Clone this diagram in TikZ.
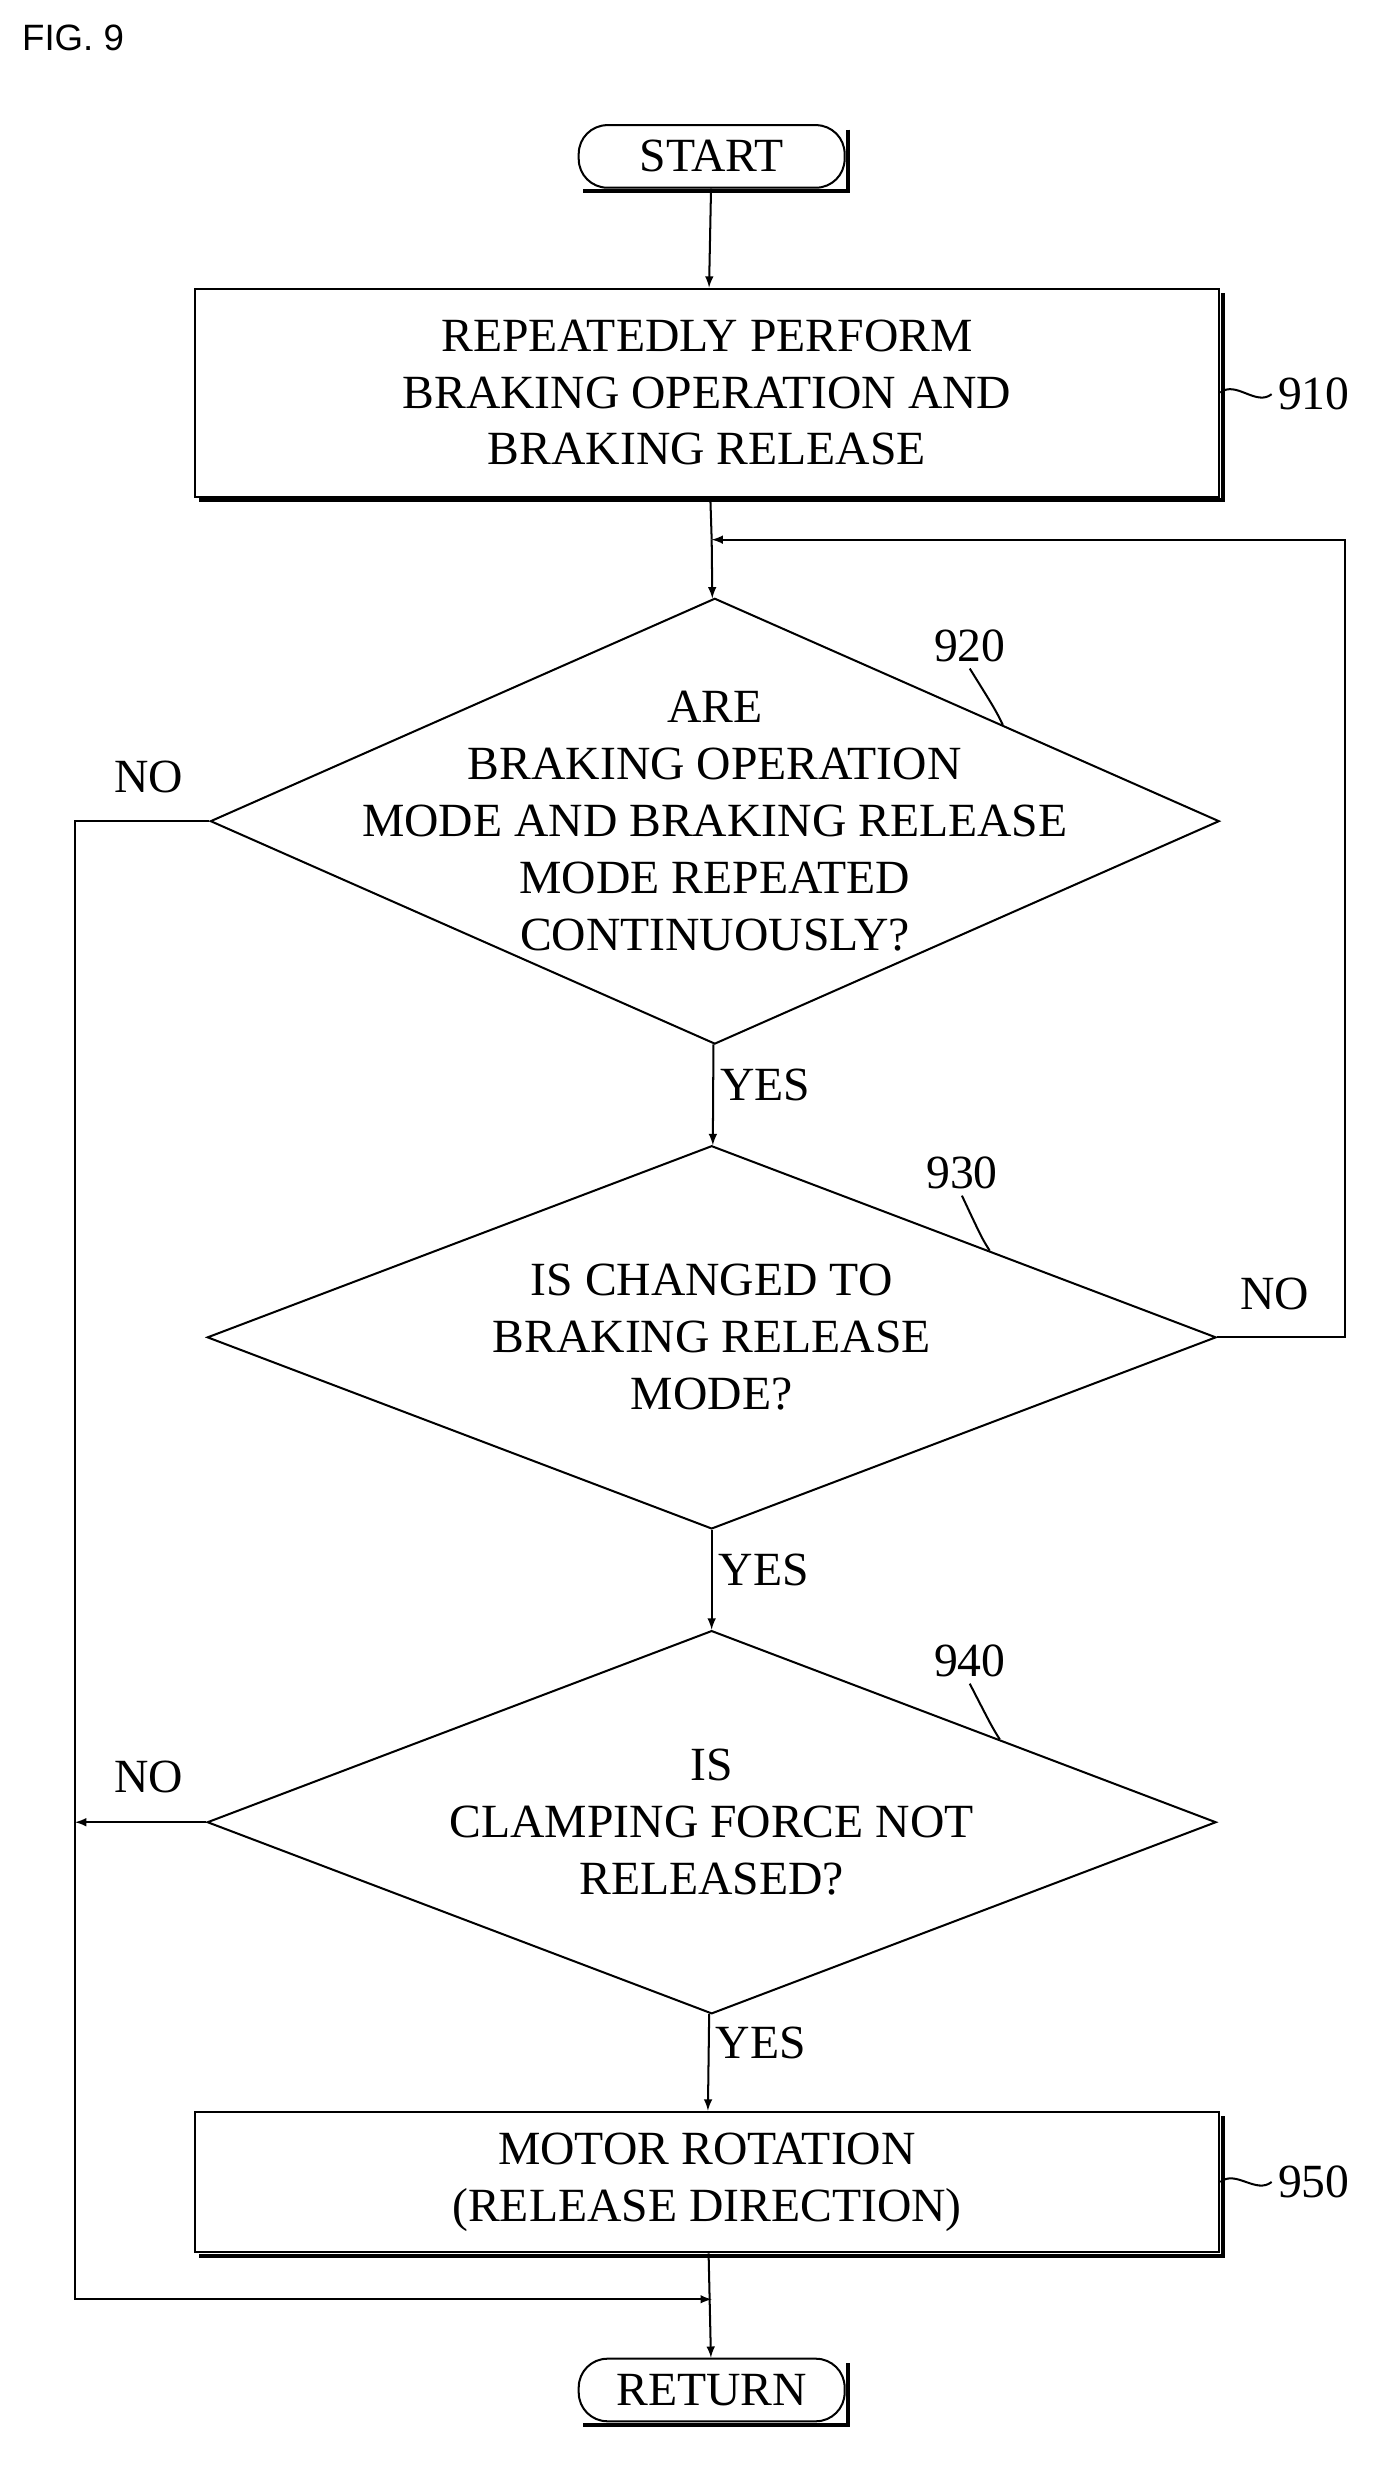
\documentclass[tikz,border=0pt]{standalone}
\usepackage{fontspec}
\setmainfont{Liberation Serif}
\setsansfont{Liberation Sans}
\usetikzlibrary{shapes.geometric,positioning,calc}

\begin{document}
\begin{tikzpicture}[
			x=0.03cm, y=-0.03cm,
			every node/.style={font=\fontsize{26}{31}\selectfont, align=center},
			box/.style={draw, line width=1.1pt, rectangle, minimum width=19.65cm, inner sep=0pt},
			term/.style={draw, line width=1.1pt, rectangle, rounded corners=0.55cm, minimum width=5.1cm, minimum height=1.2cm, inner sep=0pt},
			dec/.style={draw, line width=1.1pt, diamond, minimum width=19.35cm, inner sep=0pt},
			lbl/.style={font=\fontsize{26}{31}\selectfont},
			flow/.style={draw, line width=1.1pt, -latex}
			]
			\useasboundingbox (0,0) rectangle (885,1583);
			\node[anchor=west, font=\sffamily\fontsize{20}{24}\selectfont] (fig) at (10,24) {FIG. 9};

			\node[term] (start) at (455,100) {START};
			\node[box, minimum height=3.99cm] (b910) at (452,251) {REPEATEDLY PERFORM\\BRAKING OPERATION AND\\BRAKING RELEASE};
			\node[dec, minimum height=8.55cm] (d920) at (457,525) {};
			\node (t920) at (d920) {ARE\\BRAKING OPERATION\\MODE AND BRAKING RELEASE\\MODE REPEATED\\CONTINUOUSLY?};
			\node[dec, minimum height=7.35cm] (d930) at (455,855) {};
			\node (t930) at (d930) {IS CHANGED TO\\BRAKING RELEASE\\MODE?};
			\node[dec, minimum height=7.35cm] (d940) at (455,1165) {};
			\node (t940) at (d940) {IS\\CLAMPING FORCE NOT\\RELEASED?};
			\node[box, minimum height=2.7cm] (b950) at (452,1395) {MOTOR ROTATION\\(RELEASE DIRECTION)};
			\node[term] (ret) at (455,1528) {RETURN};

			% shadow edges
			\foreach \n in {start,b910,b950,ret}
				\draw[line width=2.2pt] ([xshift=1.5pt,yshift=-3pt]\n.north east) -- ([xshift=1.5pt,yshift=-1.5pt]\n.south east) -- ([xshift=3pt,yshift=-1.5pt]\n.south west);

			% reference numerals
			\node[lbl] (l910) at (840,252) {910};
			\node[lbl] (l920) at (620,413) {920};
			\node[lbl] (l930) at (615,750) {930};
			\node[lbl] (l940) at (620,1062) {940};
			\node[lbl] (l950) at (840,1395) {950};
			\draw[line width=1.1pt] (b910.east) .. controls +(10,-8) and +(-10,8) .. (l910.west);
			\draw[line width=1.1pt] (b950.east) .. controls +(10,-8) and +(-10,8) .. (l950.west);
			\draw[line width=1.1pt] ($(d920.north)!0.57!(d920.east)$) .. controls +(-5,-10) .. (l920.south);
			\draw[line width=1.1pt] ($(d930.north)!0.55!(d930.east)$) .. controls +(-5,-8) .. (l930.south);
			\draw[line width=1.1pt] ($(d940.north)!0.57!(d940.east)$) .. controls +(-5,-8) .. (l940.south);

			% connectors
			\coordinate (loop) at (455,345);
			\coordinate (join) at (455,1470);
			\coordinate (rgt) at (860,345);
			\coordinate (lft) at (48,1165);
			\draw[flow] (start) -- (b910);
			\draw[line width=1.1pt] (b910) -- (loop);
			\draw[flow] (loop) -- (d920);
			\draw[flow] (d920) -- node[lbl, right, pos=0.4] {YES} (d930);
			\draw[flow] (d930) -- node[lbl, right, pos=0.4] {YES} (d940);
			\draw[flow] (d940) -- node[lbl, right, pos=0.3] {YES} (b950);
			\draw[flow] (b950) -- (ret);
			\draw[flow] (d930.east) -- (d930.east -| rgt) -- (rgt) -- (loop);
			\draw[flow] (d920.west) -- (d920.west -| lft) -- (lft |- join) -- (join);
			\draw[flow] (d940.west) -- (lft);
			\node[lbl] at (95,497) {NO};
			\node[lbl] at (815,827) {NO};
			\node[lbl] at (95,1136) {NO};
		\end{tikzpicture}
\end{document}
